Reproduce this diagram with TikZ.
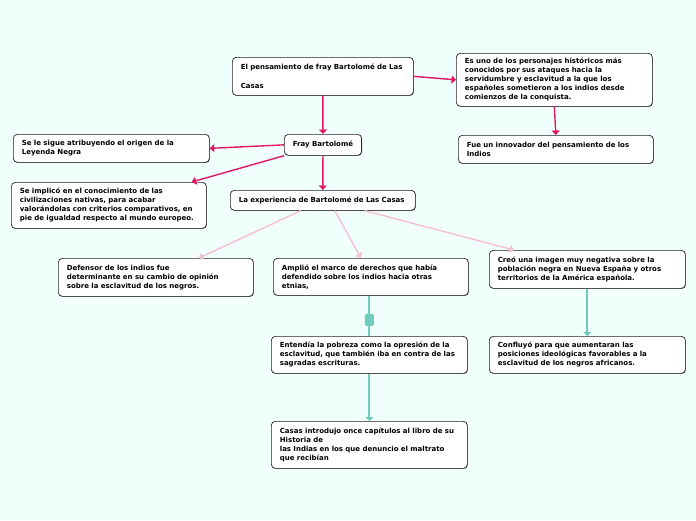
\documentclass[tikz,border=0pt]{standalone}
\usepackage{fontspec}
\setmainfont{DejaVu Sans}
\usepackage{tikz}
\usetikzlibrary{calc}
\usetikzlibrary{arrows, arrows.meta, shapes, positioning, shadows}
\usepackage[x11names, svgnames, rgb]{xcolor}
\definecolor{bgmint}{HTML}{F0FFFB}
\definecolor{linkred}{HTML}{E2185E}
\definecolor{linkpink}{HTML}{F5C0CE}
\definecolor{linkteal}{HTML}{6FCBBD}

\begin{document}
\begin{tikzpicture}[
			x=1pt, y=-1pt,
			>={Triangle[length=4.5pt, width=8pt]},
			every node/.style={
					font=\fontsize{7}{9}\selectfont\bfseries,
					inner ysep=4pt
				},
			topic/.style={
					draw=black!85,
					line width=0.7pt,
					fill=white,
					rounded corners=4pt,
					anchor=north west,
					align=left,
					inner xsep=8.5pt,
					drop shadow={shadow xshift=0.5pt, shadow yshift=-0.6pt, fill=black!55, opacity=1}
				},
			redlink/.style={->, line width=1.4pt, draw=linkred},
			pinklink/.style={->, line width=1.4pt, draw=linkpink},
			teallink/.style={line width=2pt, color=linkteal},
			tealarrow/.style={teallink, -{Triangle[length=4pt, width=8pt]}}
		]
		\fill[bgmint] (0,0) rectangle (696,520);
		\useasboundingbox (0,0) rectangle (696,520);

		\node[topic, text width=164pt, minimum height=38pt] (title) at (232,57)
			{El pensamiento de fray Bartolomé de Las\\[10pt]Casas};
		\node[topic, text width=179pt, minimum height=53pt] (uno) at (456,53)
			{Es uno de los personajes históricos más\\conocidos por sus ataques hacia la\\servidumbre y esclavitud a la que los\\españoles sometieron a los indios desde\\comienzos de la conquista.};
		\node[topic, text width=178pt, minimum height=28pt] (innov) at (458,135)
			{Fue un innovador del pensamiento de los\\Indios};
		\node[topic, minimum width=77pt, minimum height=21pt, align=center] (fray) at (284,134)
			{Fray Bartolomé};
		\node[topic, text width=179pt, minimum height=28pt] (leyenda) at (13,134)
			{Se le sigue atribuyendo el origen de la\\Leyenda Negra};
		\node[topic, text width=178pt, minimum height=46pt] (civil) at (11,182)
			{Se implicó en el conocimiento de las\\civilizaciones nativas, para acabar\\valorándolas con criterios comparativos, en\\pie de igualdad respecto al mundo europeo.};
		\node[topic, text width=168pt, minimum height=20pt] (exper) at (230,190)
			{La experiencia de Bartolomé de Las Casas};
		\node[topic, text width=178pt, minimum height=38pt] (defen) at (58,258)
			{Defensor de los indios fue\\determinante en su cambio de opinión\\sobre la esclavitud de los negros.};
		\node[topic, text width=178pt, minimum height=37pt] (ampl) at (273,258)
			{Amplió el marco de derechos que había\\defendido sobre los indios hacia otras\\etnias,};
		\node[topic, text width=179pt, minimum height=38pt] (imagen) at (489,250)
			{Creó una imagen muy negativa sobre la\\población negra en Nueva España y otros\\territorios de la América española.};
		\node[topic, text width=179pt, minimum height=37pt] (conf) at (489,336)
			{Confluyó para que aumentaran las\\posiciones ideológicas favorables a la\\esclavitud de los negros africanos.};
		\node[topic, text width=179pt, minimum height=37pt] (pobre) at (271,336)
			{Entendía la pobreza como la opresión de la\\esclavitud, que también iba en contra de las\\sagradas escrituras.};
		\node[topic, text width=179pt, minimum height=47pt] (libro) at (271,421)
			{Casas introdujo once capítulos al libro de su\\Historia de\\las Indias en los que denuncio el maltrato\\que recibían};

		% red links
		\draw[redlink] (title.south) -- (fray.north);
		\draw[redlink] (title.east) -- (uno.west);
		\draw[redlink] (uno.south) -- (innov.north);
		\draw[redlink] (fray.west) -- (leyenda.east);
		\draw[redlink] (fray.south west) -- ([xshift=-15pt]civil.north east);
		\draw[redlink] (fray.south) -- (exper.north);

		% pink links
		\draw[pinklink] ([xshift=-22pt]exper.south) -- ([xshift=43pt]defen.north);
		\draw[pinklink] ([xshift=12pt]exper.south) -- ([xshift=-10pt]ampl.north);
		\draw[pinklink] ([xshift=42pt]exper.south) -- ([xshift=25pt]imagen.north west);

		% teal links
		\draw[teallink] (pobre.north |- ampl.south) -- (pobre.north);
		\node[fill=linkteal, rounded corners=1.5pt, minimum width=9pt, minimum height=12pt, inner sep=0pt]
			(knob) at ($(pobre.north |- ampl.south)!0.6!(pobre.north)$) {};
		\draw[tealarrow] (pobre.south) -- (libro.north);
		\draw[tealarrow] (imagen.south) -- (conf.north);

	\end{tikzpicture}
\end{document}
